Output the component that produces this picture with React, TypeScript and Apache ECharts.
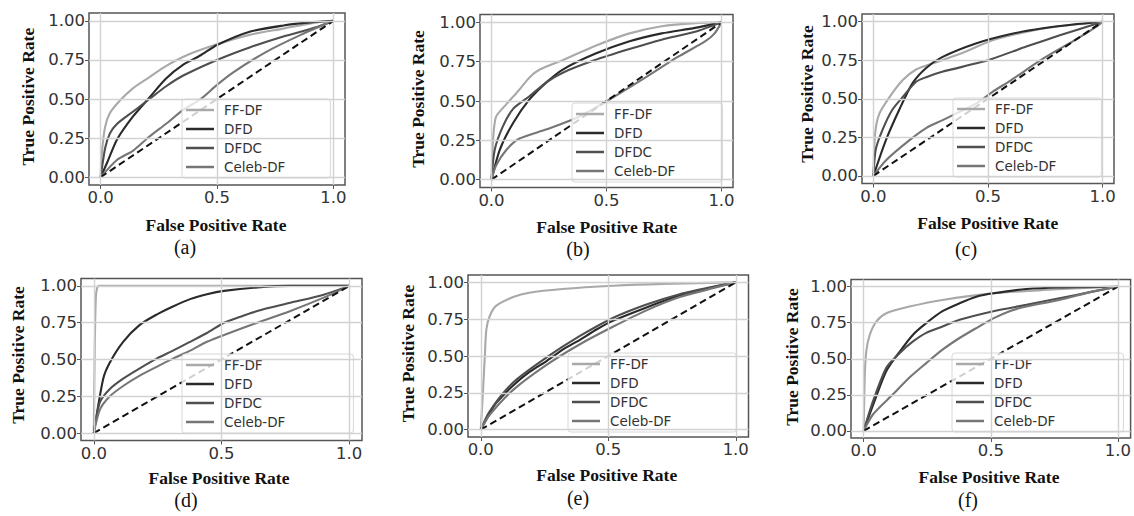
import React, { useEffect, useRef } from "react";
import * as echarts from "echarts";

const seriesNames = ["FF-DF", "DFD", "DFDC", "Celeb-DF"];
const panelLabels = ["(a)", "(b)", "(c)", "(d)", "(e)", "(f)"];
const xTickValues = [0, 0.5, 1.0];
const yTickValues = [0, 0.25, 0.5, 0.75, 1.0];
const xAxisTitle = "False Positive Rate";
const yAxisTitle = "True Positive Rate";

// ROC curves: [FPR, TPR]
const aFFDF = [[0,0],[0.005,0.15],[0.019,0.32],[0.04,0.41],[0.083,0.49],[0.14,0.57],[0.21,0.64],[0.28,0.71],[0.37,0.78],[0.5,0.85],[0.64,0.91],[0.785,0.95],[0.93,0.99],[1,1]];
const aDFD = [[0,0],[0.03,0.1],[0.07,0.24],[0.14,0.39],[0.21,0.51],[0.28,0.63],[0.355,0.72],[0.43,0.78],[0.5,0.845],[0.64,0.93],[0.785,0.97],[0.9,0.99],[1,1]];
const aDFDC = [[0,0],[0.02,0.19],[0.04,0.28],[0.07,0.34],[0.14,0.42],[0.21,0.5],[0.28,0.58],[0.355,0.65],[0.5,0.75],[0.64,0.83],[0.785,0.9],[0.93,0.96],[1,1]];
const aCeleb = [[0,0],[0.07,0.11],[0.14,0.17],[0.21,0.26],[0.28,0.34],[0.355,0.43],[0.43,0.5],[0.5,0.59],[0.57,0.67],[0.71,0.8],[0.86,0.91],[1,1]];

const bFFDF = [[0,0],[0.007,0.26],[0.02,0.4],[0.065,0.48],[0.12,0.57],[0.165,0.65],[0.21,0.7],[0.31,0.76],[0.45,0.85],[0.6,0.93],[0.74,0.975],[0.885,0.995],[1,1]];
const bDFD = [[0,0],[0.036,0.19],[0.094,0.36],[0.165,0.51],[0.24,0.62],[0.31,0.7],[0.45,0.8],[0.6,0.88],[0.74,0.93],[0.885,0.965],[1,1]];
const bDFDC = [[0,0],[0.014,0.19],[0.05,0.34],[0.094,0.45],[0.165,0.53],[0.24,0.62],[0.31,0.68],[0.45,0.76],[0.6,0.83],[0.74,0.89],[0.885,0.94],[1,1]];
const bCeleb = [[0,0],[0.02,0.09],[0.065,0.19],[0.12,0.26],[0.24,0.32],[0.38,0.4],[0.525,0.52],[0.67,0.65],[0.81,0.78],[0.93,0.88],[0.97,0.93],[1,1]];

const cFFDF = [[0,0],[0.007,0.27],[0.025,0.4],[0.07,0.51],[0.127,0.62],[0.186,0.69],[0.26,0.73],[0.376,0.79],[0.52,0.88],[0.67,0.935],[0.81,0.97],[1,1]];
const cDFD = [[0,0],[0.054,0.23],[0.113,0.43],[0.17,0.6],[0.23,0.7],[0.3,0.77],[0.45,0.86],[0.6,0.92],[0.74,0.957],[0.89,0.985],[1,1]];
const cDFDC = [[0,0],[0.01,0.17],[0.04,0.3],[0.083,0.43],[0.127,0.51],[0.186,0.61],[0.23,0.64],[0.3,0.675],[0.45,0.73],[0.52,0.76],[0.67,0.84],[0.81,0.91],[1,1]];
const cCeleb = [[0,0],[0.054,0.1],[0.156,0.23],[0.23,0.31],[0.3,0.36],[0.376,0.415],[0.45,0.47],[0.52,0.545],[0.6,0.62],[0.74,0.76],[0.89,0.89],[0.975,0.97],[1,1]];

const dFFDF = [[0,0],[0.004,0.6],[0.008,0.92],[0.013,0.985],[0.02,1],[1,1]];
const dDFD = [[0,0],[0.037,0.37],[0.063,0.48],[0.115,0.62],[0.18,0.735],[0.246,0.805],[0.31,0.86],[0.377,0.91],[0.443,0.943],[0.51,0.966],[0.64,0.99],[0.77,1],[1,1]];
const dDFDC = [[0,0],[0.024,0.21],[0.063,0.3],[0.115,0.37],[0.18,0.44],[0.246,0.506],[0.31,0.56],[0.377,0.62],[0.443,0.68],[0.51,0.75],[0.574,0.79],[0.64,0.83],[0.77,0.885],[0.9,0.94],[1,1]];
const dCeleb = [[0,0],[0.024,0.16],[0.063,0.25],[0.115,0.32],[0.18,0.39],[0.246,0.45],[0.31,0.506],[0.377,0.56],[0.443,0.62],[0.51,0.667],[0.64,0.75],[0.77,0.83],[0.9,0.92],[1,1]];

const eFFDF = [[0,0],[0.009,0.27],[0.016,0.5],[0.022,0.68],[0.035,0.77],[0.06,0.84],[0.127,0.9],[0.19,0.93],[0.32,0.955],[0.52,0.977],[0.716,0.99],[1,1]];
const eDFD = [[0,0],[0.035,0.11],[0.06,0.18],[0.127,0.3],[0.19,0.39],[0.258,0.466],[0.323,0.545],[0.389,0.61],[0.454,0.68],[0.52,0.74],[0.65,0.83],[0.78,0.91],[0.91,0.966],[1,1]];
const eDFDC = [[0,0],[0.035,0.125],[0.127,0.32],[0.258,0.49],[0.389,0.636],[0.52,0.76],[0.65,0.85],[0.78,0.92],[0.91,0.97],[1,1]];
const eCeleb = [[0,0],[0.035,0.1],[0.127,0.27],[0.258,0.44],[0.389,0.58],[0.52,0.7],[0.65,0.81],[0.78,0.9],[0.91,0.96],[1,1]];

const fFFDF = [[0,0],[0.004,0.37],[0.01,0.55],[0.024,0.667],[0.05,0.76],[0.089,0.816],[0.18,0.862],[0.31,0.908],[0.51,0.954],[0.705,0.977],[0.9,0.993],[1,1]];
const fDFD = [[0,0],[0.037,0.18],[0.089,0.414],[0.142,0.55],[0.194,0.667],[0.246,0.747],[0.31,0.83],[0.377,0.885],[0.443,0.93],[0.51,0.954],[0.64,0.984],[0.77,0.995],[1,1]];
const fDFDC = [[0,0],[0.037,0.207],[0.089,0.437],[0.142,0.54],[0.194,0.62],[0.246,0.68],[0.31,0.724],[0.377,0.77],[0.51,0.83],[0.64,0.874],[0.77,0.92],[0.9,0.966],[1,1]];
const fCeleb = [[0,0],[0.037,0.115],[0.115,0.253],[0.18,0.37],[0.246,0.47],[0.31,0.563],[0.377,0.644],[0.443,0.713],[0.51,0.78],[0.574,0.83],[0.64,0.862],[0.77,0.908],[0.9,0.966],[1,1]];

const diagonal = [[0, 0], [1, 1]];

const panelCurves = [
  [aFFDF, aDFD, aDFDC, aCeleb],
  [bFFDF, bDFD, bDFDC, bCeleb],
  [cFFDF, cDFD, cDFDC, cCeleb],
  [dFFDF, dDFD, dDFDC, dCeleb],
  [eFFDF, eDFD, eDFDC, eCeleb],
  [fFFDF, fDFD, fDFDC, fCeleb],
];

// layout (pixels)
const gridRects = [
  { left: 89, top: 13, width: 256, height: 172 },
  { left: 480, top: 14.5, width: 253, height: 173 },
  { left: 862, top: 14, width: 252, height: 169.5 },
  { left: 81, top: 278.5, width: 281, height: 162 },
  { left: 468, top: 275, width: 280.5, height: 162 },
  { left: 851, top: 279.5, width: 280.5, height: 158.5 },
];
const legendBoxes = [
  { left: 182, top: 99, width: 153 },
  { left: 572, top: 103, width: 155 },
  { left: 953, top: 98, width: 153 },
  { left: 182, top: 354, width: 176 },
  { left: 568, top: 353, width: 173 },
  { left: 952, top: 353, width: 176 },
];
const yTitlePos = [[28.3, 96.7], [418, 99], [806.7, 94], [18.3, 355], [408.3, 353.5], [791.7, 357]];
const xTitlePos = [[216, 225], [606.7, 226.7], [987.7, 223], [219, 477.7], [606.7, 475], [989, 476.7]];
const labelPos = [[185, 247], [578, 249], [966, 249], [186, 500], [578, 498], [968, 500]];

const curveColors = ["#a9a9a9", "#2a2a2a", "#4f4f4f", "#767676"];

export default function App() {
  const ref = useRef<HTMLDivElement>(null);
  useEffect(() => {
    if (!ref.current) return;
    const chart = echarts.init(ref.current, null, { renderer: "svg" });
    const grid: any[] = [];
    const xAxis: any[] = [];
    const yAxis: any[] = [];
    const series: any[] = [];
    const legend: any[] = [];
    const graphic: any[] = [];

    panelCurves.forEach((curves, i) => {
      grid.push({
        ...gridRects[i],
        show: true,
        borderColor: "#555",
        borderWidth: 1.5,
        backgroundColor: "transparent",
      });
      xAxis.push({
        type: "value",
        gridIndex: i,
        min: -0.05,
        max: 1.05,
        axisLine: { show: false, onZero: false },
        splitLine: { show: false },
        axisTick: { show: true, customValues: xTickValues, length: 4, lineStyle: { color: "#555", width: 1 } },
        axisLabel: {
          customValues: xTickValues,
          formatter: (v: number) => v.toFixed(1),
          fontFamily: "DejaVu Sans",
          fontSize: 16.5,
          color: "#333",
          margin: 4,
        },
      });
      yAxis.push({
        type: "value",
        gridIndex: i,
        min: -0.05,
        max: 1.05,
        axisLine: { show: false, onZero: false },
        splitLine: { show: false },
        axisTick: { show: true, customValues: yTickValues, length: 4, lineStyle: { color: "#555", width: 1 } },
        axisLabel: {
          customValues: yTickValues,
          formatter: (v: number) => v.toFixed(2),
          fontFamily: "DejaVu Sans",
          fontSize: 16.5,
          color: "#333",
          margin: 4,
        },
      });
      // grid lines
      series.push({
        type: "line",
        xAxisIndex: i,
        yAxisIndex: i,
        data: [],
        silent: true,
        z: 1,
        markLine: {
          silent: true,
          symbol: ["none", "none"],
          label: { show: false },
          lineStyle: { color: "#d2d2d2", width: 1.4, type: "solid" },
          emphasis: { disabled: true },
          data: [
            ...xTickValues.map((v) => ({ xAxis: v })),
            ...yTickValues.map((v) => ({ yAxis: v })),
          ],
        },
      });
      curves.forEach((pts, k) => {
        series.push({
          name: seriesNames[k],
          type: "line",
          xAxisIndex: i,
          yAxisIndex: i,
          data: pts,
          showSymbol: false,
          symbol: "none",
          smooth: 0.25,
          color: curveColors[k],
          itemStyle: { color: curveColors[k] },
          lineStyle: { color: curveColors[k], width: 2.1 },
          z: 2 + k * 0.1,
        });
      });
      series.push({
        type: "line",
        xAxisIndex: i,
        yAxisIndex: i,
        data: diagonal,
        showSymbol: false,
        symbol: "none",
        lineStyle: { color: "#111", width: 2, type: [7, 4] },
        z: 3,
      });
      const lb = legendBoxes[i];
      legend.push({
        data: seriesNames,
        left: lb.left,
        top: lb.top,
        orient: "vertical",
        icon: "rect",
        itemWidth: 28,
        itemHeight: 2.5,
        itemGap: 5,
        selectedMode: false,
        padding: [4, lb.width - 108, 4, 4],
        backgroundColor: "rgba(255,255,255,0.8)",
        borderColor: "#d8d8d8",
        borderWidth: 1,
        borderRadius: 3,
        textStyle: {
          fontFamily: "DejaVu Sans",
          fontSize: 13.5,
          color: "#333",
          lineHeight: 14,
          padding: [0, 0, 0, 5],
        },
      });
      graphic.push({
        type: "text",
        x: yTitlePos[i][0],
        y: yTitlePos[i][1],
        rotation: Math.PI / 2,
        style: {
          text: yAxisTitle,
          fontFamily: "Liberation Serif",
          fontWeight: "bold",
          fontSize: 17.5,
          fill: "#111",
          align: "center",
          verticalAlign: "middle",
        },
      });
      graphic.push({
        type: "text",
        x: xTitlePos[i][0],
        y: xTitlePos[i][1],
        style: {
          text: xAxisTitle,
          fontFamily: "Liberation Serif",
          fontWeight: "bold",
          fontSize: 17.5,
          fill: "#111",
          align: "center",
          verticalAlign: "middle",
        },
      });
      graphic.push({
        type: "text",
        x: labelPos[i][0],
        y: labelPos[i][1],
        style: {
          text: panelLabels[i],
          fontFamily: "Liberation Serif",
          fontSize: 20,
          fill: "#111",
          align: "center",
          verticalAlign: "middle",
        },
      });
    });

    chart.setOption({
      animation: false,
      backgroundColor: "#fff",
      grid,
      xAxis,
      yAxis,
      series,
      legend,
      graphic,
    });
    return () => chart.dispose();
  }, []);
  return (
    <div
      ref={ref}
      style={{ position: "absolute", left: 0, top: 0, width: 1134, height: 516 }}
    />
  );
}
